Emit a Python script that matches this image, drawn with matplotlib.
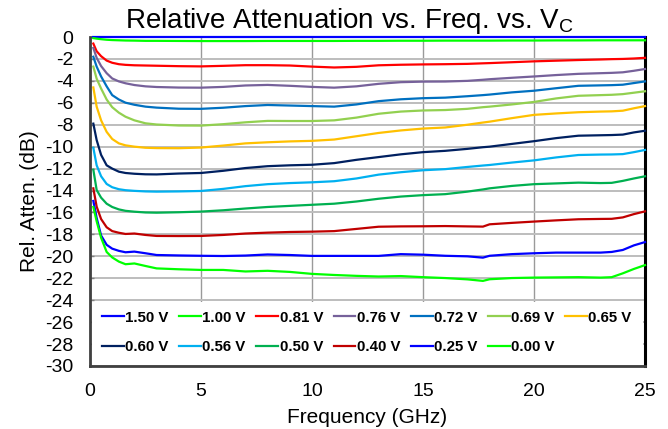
import matplotlib
matplotlib.use("Agg")
import matplotlib.pyplot as plt
from matplotlib.patches import Rectangle

plt.rcParams['font.family'] = ['Liberation Sans', 'DejaVu Sans']
plt.rcParams['axes.unicode_minus'] = False

freq = [0.15, 0.3, 0.5, 0.75, 1.0, 1.3, 1.6, 2.0, 2.5, 3.0, 4.0, 5.0, 6.0, 7.0, 8.0, 9.0,
        10.0, 11.0, 12.0, 13.0, 14.0, 15.0, 16.0, 17.0, 17.7, 18.0, 19.0, 20.0, 21.0, 22.0,
        23.0, 23.5, 24.0, 24.5, 25.0]

v150 = [-0.02, -0.02, -0.02, -0.02, -0.02, -0.02, -0.02, -0.02, -0.02, -0.02, -0.02, -0.02,
        -0.02, -0.02, -0.02, -0.02, -0.02, -0.02, -0.02, -0.02, -0.02, -0.02, -0.02, -0.02,
        -0.02, -0.02, -0.02, -0.02, -0.02, -0.02, -0.02, -0.02, -0.02, -0.02, -0.02]
v100 = [-0.1, -0.15, -0.2, -0.25, -0.28, -0.3, -0.32, -0.33, -0.35, -0.35, -0.36, -0.37,
        -0.37, -0.37, -0.36, -0.36, -0.36, -0.36, -0.35, -0.35, -0.34, -0.34, -0.33, -0.33,
        -0.33, -0.33, -0.32, -0.32, -0.31, -0.31, -0.3, -0.3, -0.3, -0.3, -0.3]
v081 = [-0.6, -1.3, -1.75, -2.15, -2.35, -2.48, -2.54, -2.58, -2.6, -2.62, -2.66, -2.68,
        -2.63, -2.57, -2.57, -2.6, -2.7, -2.78, -2.72, -2.58, -2.53, -2.5, -2.48, -2.45,
        -2.4, -2.38, -2.3, -2.22, -2.16, -2.1, -2.05, -2.02, -2.0, -1.96, -1.9]
v076 = [-1.0, -1.9, -2.65, -3.3, -3.78, -4.05, -4.22, -4.38, -4.5, -4.56, -4.61, -4.62,
        -4.55, -4.42, -4.37, -4.45, -4.55, -4.62, -4.5, -4.27, -4.12, -4.07, -4.06, -4.0,
        -3.9, -3.85, -3.72, -3.6, -3.47, -3.36, -3.3, -3.27, -3.22, -3.08, -2.92]
v072 = [-1.8, -2.7, -3.6, -4.5, -5.3, -5.7, -5.99, -6.18, -6.35, -6.44, -6.54, -6.55,
        -6.45, -6.3, -6.2, -6.25, -6.3, -6.35, -6.15, -5.85, -5.68, -5.58, -5.53, -5.4,
        -5.3, -5.25, -5.05, -4.9, -4.67, -4.45, -4.41, -4.39, -4.35, -4.2, -4.05]
v069 = [-2.7, -3.8, -4.7, -5.7, -6.4, -6.9, -7.27, -7.6, -7.87, -7.98, -8.07, -8.08,
        -7.95, -7.78, -7.65, -7.66, -7.66, -7.6, -7.35, -7.0, -6.8, -6.7, -6.66, -6.55,
        -6.4, -6.35, -6.15, -5.92, -5.6, -5.36, -5.3, -5.27, -5.21, -5.08, -4.95]
v065 = [-4.6, -6.35, -7.6, -8.65, -9.3, -9.7, -9.88, -10.0, -10.1, -10.13, -10.14, -10.08,
        -9.9, -9.7, -9.6, -9.52, -9.47, -9.35, -9.05, -8.75, -8.52, -8.35, -8.25, -8.0,
        -7.8, -7.72, -7.4, -7.1, -6.97, -6.86, -6.8, -6.78, -6.72, -6.5, -6.3]
v060 = [-7.9, -9.4, -10.75, -11.7, -12.0, -12.28, -12.4, -12.47, -12.52, -12.53, -12.45, -12.4,
        -12.2, -11.95, -11.78, -11.7, -11.65, -11.5, -11.2, -10.95, -10.7, -10.5, -10.38, -10.2,
        -10.05, -10.0, -9.75, -9.5, -9.22, -9.0, -8.96, -8.94, -8.9, -8.7, -8.55]
v056 = [-10.1, -11.7, -12.7, -13.4, -13.7, -13.88, -13.97, -14.03, -14.08, -14.1, -14.08, -14.04,
        -13.85, -13.6, -13.42, -13.32, -13.25, -13.15, -12.9, -12.55, -12.33, -12.15, -12.05, -11.85,
        -11.72, -11.67, -11.45, -11.25, -10.98, -10.76, -10.72, -10.71, -10.68, -10.5, -10.3]
v050 = [-12.1, -13.95, -14.65, -15.2, -15.5, -15.72, -15.85, -15.93, -16.0, -16.02, -15.98, -15.92,
        -15.8, -15.64, -15.5, -15.4, -15.3, -15.2, -15.0, -14.75, -14.55, -14.42, -14.33, -14.1,
        -13.9, -13.8, -13.58, -13.42, -13.35, -13.28, -13.32, -13.3, -13.12, -12.9, -12.7]
v040 = [-13.8, -15.47, -16.6, -17.35, -17.7, -17.85, -17.96, -17.92, -18.05, -18.14, -18.15, -18.14,
        -18.05, -17.92, -17.84, -17.78, -17.75, -17.7, -17.5, -17.3, -17.27, -17.26, -17.24, -17.27,
        -17.29, -17.08, -16.95, -16.83, -16.72, -16.62, -16.59, -16.58, -16.45, -16.15, -15.9]
v025 = [-14.95, -16.5, -18.1, -18.95, -19.3, -19.5, -19.63, -19.57, -19.72, -19.88, -19.92, -19.95,
        -19.97, -19.93, -19.83, -19.88, -19.96, -19.96, -19.96, -19.96, -19.8, -19.85, -19.95, -20.0,
        -20.12, -19.95, -19.8, -19.72, -19.66, -19.66, -19.66, -19.6, -19.42, -19.0, -18.7]
v000 = [-15.5, -16.8, -18.3, -19.6, -20.1, -20.48, -20.72, -20.65, -20.88, -21.1, -21.18, -21.24,
        -21.24, -21.38, -21.32, -21.42, -21.6, -21.7, -21.78, -21.84, -21.8, -21.9, -21.98, -22.1,
        -22.24, -22.09, -21.98, -21.94, -21.92, -21.9, -21.94, -21.9, -21.55, -21.15, -20.8]

labels = ['1.50 V', '1.00 V', '0.81 V', '0.76 V', '0.72 V', '0.69 V', '0.65 V',
          '0.60 V', '0.56 V', '0.50 V', '0.40 V', '0.25 V', '0.00 V']
series = [v150, v100, v081, v076, v072, v069, v065, v060, v056, v050, v040, v025, v000]
colors = ['#0000FF', '#00FF00', '#FF0000', '#76619A', '#0070C0', '#92D050', '#FFC000',
          '#002060', '#00B0F0', '#00B050', '#C00000', '#0000FF', '#00FF00']

xticks = [0, 5, 10, 15, 20, 25]
yticks = list(range(-30, 1, 2))

fig = plt.figure(figsize=(6.68, 4.29), dpi=100)
ax = fig.add_axes([90/668, 1-366/429, 555/668, 329/429])

handles = []
for y, c, lab in zip(series, colors, labels):
    h, = ax.plot(freq, y, color=c, lw=1.6, label=lab, clip_on=False, zorder=3)
    handles.append(h)

ax.set_xlim(0, 25)
ax.set_ylim(-30, 0)
ax.set_xticks(xticks)
ax.set_yticks(yticks)
ax.set_axisbelow(True)
ax.yaxis.grid(True, color='#BDBDBD', lw=1.4)
ax.xaxis.grid(True, color='#9A9A9A', lw=1.0)
ax.tick_params(direction='in', length=3, width=1, colors='#808080', labelsize=14,
               labelcolor='black')
ax.tick_params(axis='y', pad=12)
ax.tick_params(axis='x', pad=12)
ax.spines['top'].set_visible(False)
ax.spines['left'].set_color('#404040')
ax.spines['left'].set_linewidth(2)
ax.spines['bottom'].set_color('#404040')
ax.spines['bottom'].set_linewidth(2)
ax.spines['right'].set_color('black')
ax.spines['right'].set_linewidth(2.2)

ax.add_patch(Rectangle((0.004, 0.003), 0.992, (366-303)/329, transform=ax.transAxes,
                       facecolor='white', edgecolor='none', zorder=1))

ncol = 7
order = []
for i in range(ncol):
    order.append(i)
    if i + ncol < len(handles):
        order.append(i + ncol)
ax.legend([handles[i] for i in order], [labels[i] for i in order],
          loc='center left', bbox_to_anchor=(12/555, 0.102), ncol=ncol, frameon=False,
          borderaxespad=0, borderpad=0, handlelength=1.45, handletextpad=0.1,
          columnspacing=0.7, labelspacing=1.05,
          prop={'family': 'Liberation Sans', 'weight': 'bold', 'size': 10.8})

ax.set_xlabel('Frequency (GHz)', fontsize=15, labelpad=6)
ax.set_ylabel('Rel. Atten. (dB)', fontsize=15, labelpad=4)

fig.text(349/668, 1-28/429, r'Relative Attenuation vs. Freq. vs. V$_\mathregular{C}$',
         ha='center', va='baseline', fontsize=20)

fig.savefig('out.png', dpi=100)
